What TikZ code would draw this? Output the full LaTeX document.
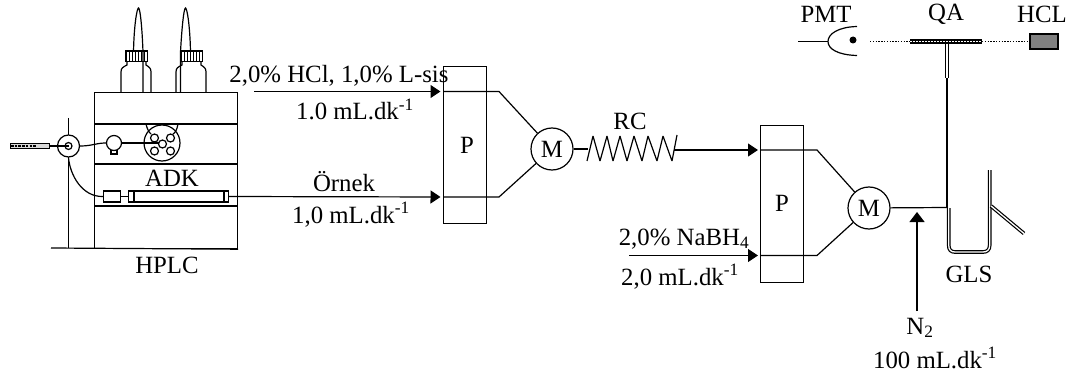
\documentclass[tikz,border=0pt]{standalone}
\usepackage{fontspec}
\setmainfont{Liberation Serif}
\usetikzlibrary{arrows.meta}
\tikzset{
  x=1pt,y=-1pt,
  ink/.style={line width=1.2pt,black},
  thin ink/.style={line width=0.8pt,black},
  lbl/.style={inner sep=0pt,font=\fontsize{24.8}{26}\selectfont},
  pumpbox/.style={draw,ink,minimum width=43pt,inner sep=0pt,anchor=north west},
  mixer/.style={draw,ink,circle,minimum size=42pt,inner sep=0pt,fill=white,font=\fontsize{24.8}{26}\selectfont},
  flow/.style={ink,-{Triangle[length=10pt,width=13pt]}},
  dbl/.style={black,line width=1.2pt,double=white,double distance=1.3pt},
}
\newcommand{\bottle}[1]{% x-left
  \draw[ink] (#1,92) -- (#1,72) .. controls (#1,68) and (#1+2,67) .. (#1+6,65) -- (#1+6,61)
    -- (#1+25,61) -- (#1+25,65) .. controls (#1+28,67) and (#1+30,68) .. (#1+30,72) -- (#1+30,92);
  \draw[ink,fill=white] (#1+5,51) rectangle (#1+26.5,61.5);
  \foreach \q in {8,11,14,17,20,23} \draw[thin ink] (#1+\q,52) -- (#1+\q,61);
}
\begin{document}
\begin{tikzpicture}
\useasboundingbox (0,0) rectangle (1068,377);
% HPLC
\node[draw,ink,minimum width=143pt,minimum height=156pt,inner sep=0pt,anchor=north west] (hplc) at (94,92) {};
\draw[ink] (94,124) -- (237,124) (94,164) -- (237,164) (94,206) -- (237,206);
\coordinate (baseL) at (51,248);
\draw[ink] (baseL) -- (hplc.south east);
\bottle{121}
\bottle{176}
\draw[ink] (143,92) -- (143,52) .. controls (142,25) and (140,8) .. (138.5,8) .. controls (137,8) and (134,25) .. (133.5,52);
\draw[ink] (180.5,92) -- (180.5,52) .. controls (182,25) and (184,8) .. (185.5,8) .. controls (187,8) and (190,25) .. (190.5,52);
\node[lbl] (adk) at (172,178) {ADK};
\node[lbl] (hplct) at (167,265) {HPLC};
% stand and injector
\coordinate (standtop) at (68.5,118);
\coordinate (standbot) at (68.5,248);
\draw[ink] (standtop) -- (standbot);
\node[draw,ink,circle,minimum size=22pt,inner sep=0pt,fill=white] (inj) at (68.5,146) {};
\node[draw,ink,circle,minimum size=7pt,inner sep=0pt] (injc) at (68.5,146) {};
% syringe
\draw[black,line width=1pt,fill=black!15] (10,143.5) rectangle (49.5,148.5);
\draw[black,line width=2.4pt,dash pattern=on 2.5pt off 1.2pt] (11,146) -- (36,146);
\node[inner sep=0pt,minimum size=0pt] (synend) at (49.5,146) {};
\draw[ink] (synend) -- (inj.center);
% pump
\node[draw,ink,circle,minimum size=15pt,inner sep=0pt] (lc) at (114,143) {};
\draw[ink] (111,150.5) rectangle (117,154);
\draw[ink] (inj) .. controls (92,146) and (96,143) .. (lc);
% valve
\node[draw,ink,circle,minimum size=36pt,inner sep=0pt] (valve) at (162,143) {};
\draw[ink] (lc) -- (valve.center);
\draw[ink] (146,124) .. controls (148,132) and (150,133) .. (151,134) (178,124) .. controls (177,130) and (175,133) .. (173,134);
\foreach \n/\a/\b in {a/154.5/138,b/170.5/138,c/162.5/144,d/154.5/151,e/170.5/151}
  \node[draw,ink,circle,minimum size=8pt,inner sep=0pt,fill=white] (v\n) at (\a,\b) {};
% column
\node[draw,ink,minimum width=17pt,minimum height=11pt,inner sep=0pt] (guard) at (112,196.5) {};
\node[draw,ink,minimum width=100pt,minimum height=11pt,inner sep=0pt] (col) at (178.5,196.5) {};
\draw[ink] (134,191) -- (134,202) (224,191) -- (224,202);
\draw[ink] (guard) -- (col);
\draw[ink] (inj.south) .. controls (70,175) and (82,197) .. (guard.west);
% first pump
\node[pumpbox,minimum height=157pt] (p1) at (443,66) {};
\node[lbl] (p1t) at (467,145) {P};
\node[mixer] (m1) at (552,149) {M};
\coordinate (p1a) at (499,91.5);
\coordinate (p1b) at (499,197);
\coordinate (in1) at (254,91.5);
\draw[flow,shorten >=2.5pt] (in1) -- (p1.west |- p1a);
\draw[flow,shorten >=2.5pt] (col.east) -- (p1.west |- p1b);
\draw[ink] (p1.west |- p1a) -- (p1a) -- (m1);
\draw[ink] (p1.west |- p1b) -- (p1b) -- (m1);
\node[lbl,anchor=base] (t1) at (339,83) {2,0\% HCl, 1,0\% L-sis};
\node[lbl,anchor=base] (t2) at (355,120) {1.0 mL.dk\textsuperscript{-1}};
\node[lbl,anchor=base] (t3) at (344,191) {Örnek};
\node[lbl,anchor=base] (t4) at (351,223) {1,0 mL.dk\textsuperscript{-1}};
% RC
\node[lbl] (rc) at (630,121) {RC};
\coordinate (rcL) at (588,149);
\coordinate (rcR) at (674,150);
\draw[ink] (m1) -- (rcL);
\draw[ink,line join=bevel] (587,161) -- (593,136) -- (600,161) -- (607,136) -- (613,161) -- (620,136) -- (627,161) -- (634,136) -- (642,161) -- (648,136) -- (657,161) -- (663,136) -- (672,161) -- (677,135);
% second pump
\node[pumpbox,minimum height=157pt,minimum width=43pt] (p2) at (760,125) {};
\node[lbl] (p2t) at (782,203) {P};
\node[mixer] (m2) at (869,208) {M};
\coordinate (p2a) at (817,150);
\coordinate (p2b) at (817,255.5);
\draw[flow,shorten >=2pt] (rcR) -- (p2.west |- p2a);
\coordinate (in2) at (629,255.5);
\draw[flow,shorten >=2pt] (in2) -- (p2.west |- p2b);
\draw[ink] (p2.west |- p2a) -- (p2a) -- (m2);
\draw[ink] (p2.west |- p2b) -- (p2b) -- (m2);
\node[lbl,anchor=base] (t5) at (684,245) {2,0\% NaBH\textsubscript{4}};
\node[lbl,anchor=base] (t6) at (680,285) {2,0 mL.dk\textsuperscript{-1}};
% GLS
\coordinate (gin) at (947,207.5);
\draw[ink] (m2) -- (gin);
\coordinate (n2b) at (917,311);
\coordinate (n2t) at (917,212);
\draw[ink,-{Triangle[length=10pt,width=15pt]}] (n2b) -- (n2t);
\node[lbl] (n2) at (920,328) {N\textsubscript{2}};
\node[lbl,anchor=base] (n2r) at (935,368) {100 mL.dk\textsuperscript{-1}};
\draw[dbl,line join=round] (948.7,208) -- (948.7,245) .. controls (948.7,250) and (951,252) .. (955,252) -- (983,252) .. controls (987,252) and (989.7,250) .. (989.7,245) -- (989.7,170);
\draw[dbl] (991,206) -- (1024,233.5);
\node[lbl] (gls) at (969,274) {GLS};
% optics
\node[lbl] (pmt) at (826,14) {PMT};
\node[lbl] (qa) at (946,14) {QA};
\node[lbl] (hcl) at (1042,14) {HCL};
\node[draw,ink,fill=black!50,minimum width=28pt,minimum height=15pt,inner sep=0pt] (lamp) at (1044,41.5) {};
\coordinate (pl) at (798,41.5);
\coordinate (pa) at (828,41.5);
\draw[ink] (pl) -- (pa);
\draw[ink] (857,26.5) .. controls (838,27) and (828,34) .. (828,41.5) .. controls (828,49) and (838,55) .. (857,55.5);
\node[circle,fill=black,minimum size=7pt,inner sep=0pt] (dot) at (853,40) {};
\coordinate (ql) at (910,41.5);
\coordinate (qr) at (982,41.5);
\draw[black,line width=1.1pt,dash pattern=on 1.4pt off 1.4pt] (870,41.5) -- (lamp.west);
\draw[black,line width=4.4pt] (ql) -- (qr);
\draw[white,line width=1.3pt,dash pattern=on 2pt off 1pt] (ql) -- (qr);
\draw[dbl] (947,44) -- (947,78);
\draw[ink] (947,78) -- (947,207.5);
\end{tikzpicture}
\end{document}
